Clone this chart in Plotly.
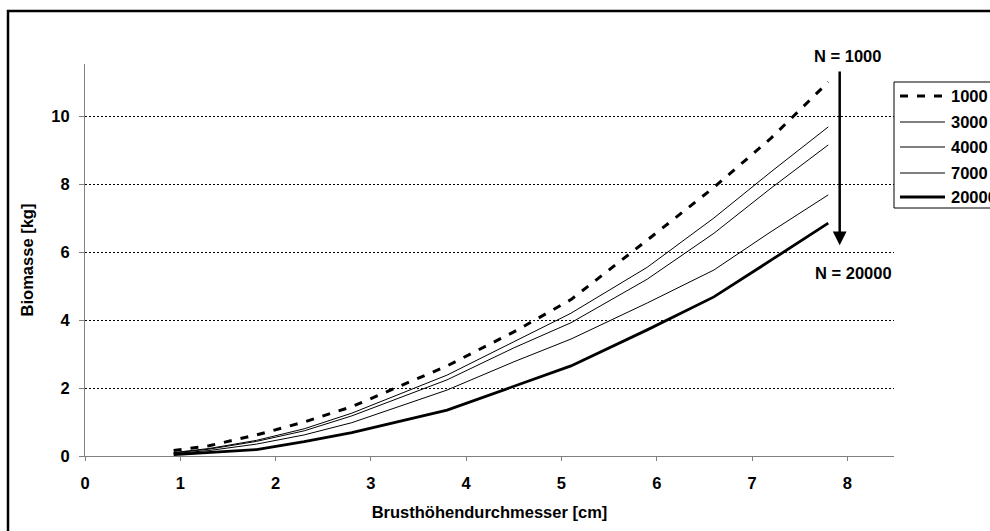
import plotly.graph_objects as go

# ---- data ----
dbh = [0.93, 1.3, 1.8, 2.3, 2.8, 3.8, 4.5, 5.1, 5.9, 6.6, 7.2, 7.8]
series_names = ["1000", "3000", "4000", "7000", "20000"]
bm_1000  = [0.16, 0.30, 0.62, 1.00, 1.45, 2.65, 3.65, 4.60, 6.35, 7.90, 9.35, 11.00]
bm_3000  = [0.10, 0.22, 0.46, 0.80, 1.26, 2.38, 3.36, 4.20, 5.55, 7.00, 8.36, 9.68]
bm_4000  = [0.09, 0.20, 0.43, 0.74, 1.18, 2.24, 3.18, 3.92, 5.20, 6.55, 7.88, 9.15]
bm_7000  = [0.07, 0.16, 0.35, 0.62, 0.98, 1.94, 2.77, 3.44, 4.50, 5.47, 6.60, 7.68]
bm_20000 = [0.04, 0.10, 0.19, 0.42, 0.69, 1.35, 2.06, 2.65, 3.71, 4.68, 5.76, 6.85]
x_ticks = [0, 1, 2, 3, 4, 5, 6, 7, 8]
y_ticks = [0, 2, 4, 6, 8, 10]

values = [bm_1000, bm_3000, bm_4000, bm_7000, bm_20000]
styles = [
    dict(width=3, dash="8px,9px"),
    dict(width=1, dash="solid"),
    dict(width=1, dash="solid"),
    dict(width=1, dash="solid"),
    dict(width=2.8, dash="solid"),
]

W, H = 990, 531
L, R, T, B = 85, 894, 64, 456  # plot area in px
FONT = "Liberation Sans, Arial, sans-serif"
FS = 16.5


def px2paper_x(px):
    return (px - L) / (R - L)


def px2paper_y(py):
    return (B - py) / (B - T)


def bold(size=FS):
    return dict(family=FONT, size=size, color="black", weight="bold")


fig = go.Figure()
for name, vals, st in zip(series_names, values, styles):
    fig.add_trace(go.Scatter(
        x=dbh, y=vals, name=name, mode="lines",
        line=dict(color="black", width=st["width"], dash=st["dash"]),
        showlegend=False,
    ))

fig.update_layout(
    width=W, height=H,
    margin=dict(l=L, r=W - R, t=T, b=H - B, pad=0),
    paper_bgcolor="white", plot_bgcolor="white",
    font=bold(),
    showlegend=False,
)

fig.update_xaxes(
    range=[0, 8.49], tickvals=x_ticks, ticktext=[str(v) for v in x_ticks],
    showgrid=False, zeroline=False,
    showline=True, linecolor="#808080", linewidth=1,
    ticks="outside", ticklen=4, tickcolor="#808080", tickwidth=1,
    ticklabelstandoff=8,
    tickfont=bold(),
    title=dict(text="Brusthöhendurchmesser [cm]", font=bold(), standoff=15),
    automargin=False,
)
fig.update_yaxes(
    range=[0, 11.53], tickvals=y_ticks, ticktext=[str(v) for v in y_ticks],
    showgrid=True, gridcolor="black", gridwidth=1.3, griddash="2px,2px",
    zeroline=False,
    showline=True, linecolor="#808080", linewidth=1,
    ticks="outside", ticklen=5, tickcolor="#808080", tickwidth=1,
    ticklabelstandoff=6,
    tickfont=bold(),
    title=dict(text="Biomasse [kg]", font=bold(), standoff=13),
    automargin=False,
)

shapes = []
# outer frame (only top and left edges visible in the crop)
shapes.append(dict(type="rect", xref="paper", yref="paper",
                   x0=px2paper_x(8), y0=px2paper_y(560),
                   x1=px2paper_x(1020), y1=px2paper_y(11),
                   line=dict(color="black", width=2.5), fillcolor="rgba(0,0,0,0)",
                   layer="above"))
# legend box
shapes.append(dict(type="rect", xref="paper", yref="paper",
                   x0=px2paper_x(894), y0=px2paper_y(208),
                   x1=px2paper_x(1010), y1=px2paper_y(82),
                   line=dict(color="black", width=1), fillcolor="white",
                   layer="above"))
leg_y = [96, 122, 147, 173, 197]
annotations = []
for name, st, ly in zip(series_names, styles, leg_y):
    shapes.append(dict(type="line", xref="paper", yref="paper",
                       x0=px2paper_x(900), x1=px2paper_x(945),
                       y0=px2paper_y(ly), y1=px2paper_y(ly),
                       line=dict(color="black", width=st["width"], dash=st["dash"]),
                       layer="above"))
    annotations.append(dict(xref="paper", yref="paper",
                            x=px2paper_x(949), y=px2paper_y(ly),
                            xanchor="left", yanchor="middle", showarrow=False,
                            text=name, font=bold()))

# arrow N = 1000 -> N = 20000
annotations.append(dict(x=7.92, y=6.2, ax=7.92, ay=11.35, xref="x", yref="y",
                        axref="x", ayref="y", showarrow=True, text="",
                        arrowhead=2, arrowsize=1.1, arrowwidth=2.5, arrowcolor="black"))
annotations.append(dict(x=8.0, y=px2paper_y(56), xref="x", yref="paper", showarrow=False,
                        text="N = 1000", xanchor="center", yanchor="middle",
                        font=bold()))
annotations.append(dict(x=8.07, y=5.38, xref="x", yref="y", showarrow=False,
                        text="N = 20000", xanchor="center", yanchor="middle",
                        font=bold()))

fig.update_layout(shapes=shapes, annotations=annotations)

fig.write_html("out.html",
               config={"displayModeBar": False},
               post_script="document.body.style.margin='0';document.body.style.overflow='hidden';")
